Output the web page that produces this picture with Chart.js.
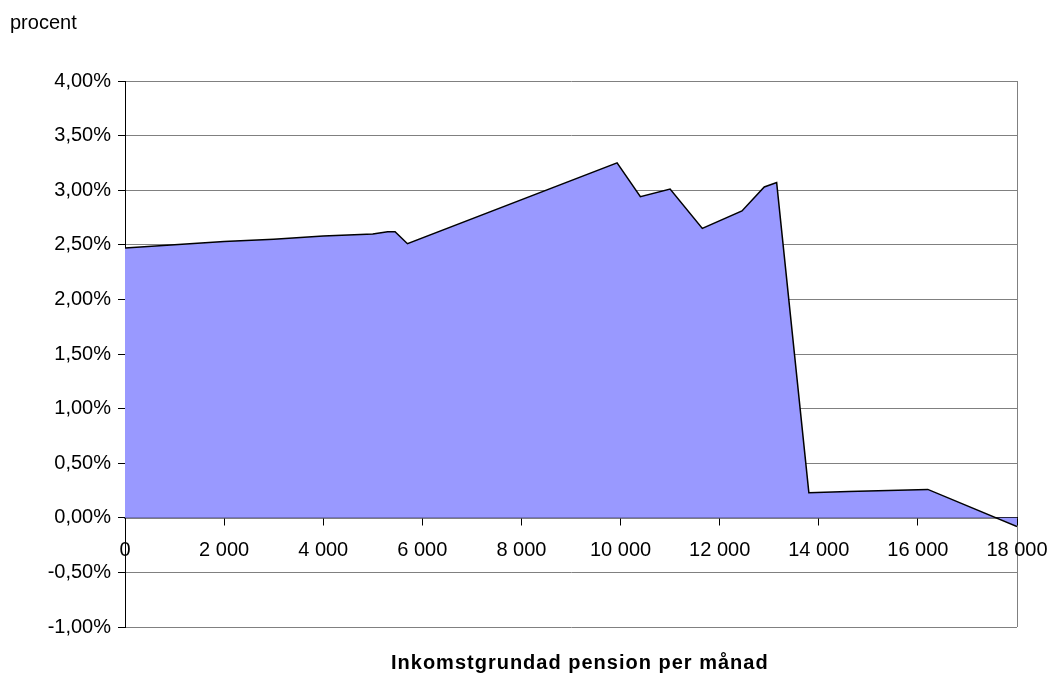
<!DOCTYPE html>
<html lang="sv">
<head>
<meta charset="UTF-8">
<title>procent</title>
<style>
    html, body { margin: 0; padding: 0; background: #fff; }
    #wrap { width: 1051px; height: 673px; position: relative; }
</style>
</head>
<body>
<div id="wrap"><canvas id="chart"></canvas></div>

<script src="https://cdn.jsdelivr.net/npm/chart.js"></script>
<script>
    // inkomstgrundad pension per månad (kr) och procent
    const pension = [0, 1000, 2000, 3000, 4000, 5000, 5300, 5450, 5700, 9930, 10400, 11000, 11650, 12450, 12900, 13150, 13800, 14600, 15400, 16200, 18000];
    const procent = [2.47, 2.50, 2.53, 2.55, 2.58, 2.60, 2.62, 2.62, 2.51, 3.25, 2.94, 3.01, 2.65, 2.81, 3.03, 3.07, 0.23, 0.24, 0.25, 0.26, -0.08];
    const xTicks = [0, 2000, 4000, 6000, 8000, 10000, 12000, 14000, 16000, 18000];
    const yTicks = [-1, -0.5, 0, 0.5, 1, 1.5, 2, 2.5, 3, 3.5, 4];

    const font = "'Liberation Sans', Arial, sans-serif";

    const texter = {
        id: 'texter',
        afterDraw(chart) {
            const c = chart.ctx;
            c.save();
            c.fillStyle = '#000';
            c.textBaseline = 'alphabetic';
            c.textAlign = 'left';
            c.font = '20px ' + font;
            c.fillText('procent', 10, 29);
            c.font = 'bold 20px ' + font;
            c.letterSpacing = '1px';
            c.fillText('Inkomstgrundad pension per månad', 391, 669);
            c.restore();
        }
    };

    new Chart(document.getElementById('chart'), {
        type: 'line',
        data: {
            datasets: [{
                data: pension.map((p, i) => ({ x: p, y: procent[i] })),
                borderColor: '#000',
                borderWidth: 1.5,
                backgroundColor: '#9999FF',
                fill: 'origin',
                pointRadius: 0,
                tension: 0
            }]
        },
        plugins: [texter],
        options: {
            responsive: true,
            maintainAspectRatio: false,
            animation: false,
            layout: { padding: { left: 0, top: 81, right: 34, bottom: 46 } },
            plugins: { legend: { display: false }, tooltip: { enabled: false } },
            scales: {
                x: {
                    type: 'linear',
                    position: { y: 0 },
                    min: 0,
                    max: 18000,
                    z: 1,
                    afterBuildTicks: s => { s.ticks = xTicks.map(v => ({ value: v })); },
                    afterFit: s => { s.paddingLeft = 0; s.paddingRight = 0; },
                    ticks: {
                        color: '#000',
                        font: { family: font, size: 20 },
                        padding: 14,
                        maxRotation: 0,
                        callback: v => String(v).replace(/\B(?=(\d{3})+(?!\d))/g, ' ')
                    },
                    grid: {
                        color: ctx => ctx.tick && ctx.tick.value === 18000 ? '#808080' : 'rgba(0,0,0,0)',
                        tickColor: '#000',
                        tickLength: 7,
                        drawTicks: true
                    },
                    border: { color: '#000', width: 1.5 }
                },
                y: {
                    min: -1,
                    max: 4,
                    afterBuildTicks: s => { s.ticks = yTicks.map(v => ({ value: v })); },
                    afterFit: s => { s.width = 125; },
                    ticks: {
                        color: '#000',
                        font: { family: font, size: 20 },
                        padding: 7,
                        callback: v => v.toFixed(2).replace('.', ',') + '%'
                    },
                    grid: {
                        color: '#808080',
                        tickColor: '#000',
                        tickLength: 7
                    },
                    border: { color: '#000', width: 1 }
                }
            }
        }
    });
</script>
</body>
</html>
